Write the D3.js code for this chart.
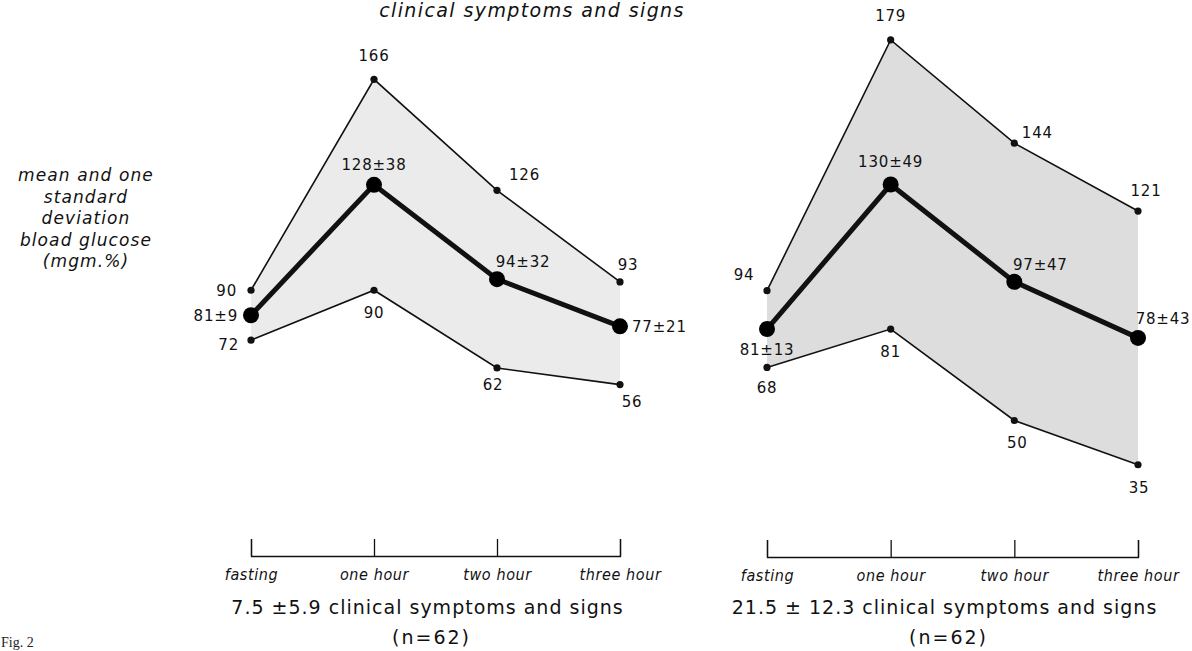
<!DOCTYPE html>
<html>
<head>
<meta charset="utf-8">
<script src="https://cdn.jsdelivr.net/npm/d3@7"></script>
<style>
  body { margin: 0; background: #fff; }
  svg { display: block; }
</style>
</head>
<body>
<div id="chart"></div>
<script>
// time points on the x axis
const timePoints = ["fasting", "one hour", "two hour", "three hour"];

// left panel: 7.5 ± 5.9 symptoms
const meanLeft = [81, 128, 94, 77];
const sdLeft = [9, 38, 32, 21];
const upperLeft = [90, 166, 126, 93];
const lowerLeft = [72, 90, 62, 56];

// right panel: 21.5 ± 12.3 symptoms
const meanRight = [81, 130, 97, 78];
const sdRight = [13, 49, 47, 43];
const upperRight = [94, 179, 144, 121];
const lowerRight = [68, 81, 50, 35];

const width = 1192, height = 651;
const numFont = "'DejaVu Sans', sans-serif";

const svg = d3.select("#chart").append("svg")
    .attr("width", width)
    .attr("height", height);

// 顶部标题
svg.append("text")
    .attr("x", 532).attr("y", 17)
    .attr("text-anchor", "middle")
    .attr("font-family", numFont)
    .attr("font-style", "italic")
    .attr("font-size", 19)
    .attr("letter-spacing", 1.4)
    .attr("fill", "#111")
    .text("clinical symptoms and signs");

// y label
const yLabel = ["mean and one", "standard", "deviation", "bload glucose", "(mgm.%)"];
svg.append("text")
    .attr("font-family", numFont)
    .attr("font-style", "italic")
    .attr("font-size", 17)
    .attr("letter-spacing", 1.1)
    .attr("text-anchor", "middle")
    .attr("fill", "#111")
    .selectAll("tspan")
    .data(yLabel)
    .enter().append("tspan")
    .attr("x", 86)
    .attr("y", (d, i) => 181 + i * 21.5)
    .text(d => d);

svg.append("text")
    .attr("x", 1).attr("y", 647)
    .attr("font-family", "'Liberation Serif', serif")
    .attr("font-size", 14)
    .attr("fill", "#222")
    .text("Fig. 2");

// 绘制一个面板
function drawPanel(p) {
    const x = d3.scalePoint().domain(timePoints).range(p.xRange);
    const y = d3.scaleLinear().domain([0, 200]).range(p.yRange);

    const rows = timePoints.map((t, i) => ({
        t: t, mean: p.mean[i], sd: p.sd[i], upper: p.upper[i], lower: p.lower[i]
    }));

    const g = svg.append("g");

    // shaded band
    g.append("path")
        .datum(rows)
        .attr("fill", p.fill)
        .attr("d", d3.area()
            .x(d => x(d.t))
            .y0(d => y(d.lower))
            .y1(d => y(d.upper)));

    // upper and lower thin lines
    ["upper", "lower"].forEach(k => {
        g.append("path")
            .datum(rows)
            .attr("fill", "none")
            .attr("stroke", "#111")
            .attr("stroke-width", 1.6)
            .attr("d", d3.line().x(d => x(d.t)).y(d => y(d[k])));

        g.selectAll(".dot-" + k)
            .data(rows)
            .enter().append("circle")
            .attr("cx", d => x(d.t))
            .attr("cy", d => y(d[k]))
            .attr("r", 3.6)
            .attr("fill", "#111");
    });

    // mean line
    g.append("path")
        .datum(rows)
        .attr("fill", "none")
        .attr("stroke", "#111")
        .attr("stroke-width", 5)
        .attr("d", d3.line().x(d => x(d.t)).y(d => y(d.mean)));

    g.selectAll(".dot-mean")
        .data(rows)
        .enter().append("circle")
        .attr("cx", d => x(d.t))
        .attr("cy", d => y(d.mean))
        .attr("r", 8)
        .attr("fill", "#000");

    // value labels
    const labelSets = [
        { key: "upper", text: d => d.upper, pos: p.upperPos },
        { key: "mean", text: d => d.mean + "±" + d.sd, pos: p.meanPos },
        { key: "lower", text: d => d.lower, pos: p.lowerPos }
    ];
    labelSets.forEach(s => {
        g.selectAll(".lab-" + s.key)
            .data(rows)
            .enter().append("text")
            .attr("x", (d, i) => x(d.t) + s.pos[i][0])
            .attr("y", (d, i) => y(d[s.key]) + s.pos[i][1])
            .attr("dy", "0.36em")
            .attr("text-anchor", (d, i) => s.pos[i][2])
            .attr("font-family", numFont)
            .attr("font-size", 15)
            .attr("letter-spacing", 0.8)
            .attr("fill", "#111")
            .text(s.text);
    });

    // bracket axis
    const axis = g.append("g")
        .attr("transform", `translate(0,${p.axisY})`)
        .call(d3.axisBottom(x).tickSizeInner(-17).tickSizeOuter(-17).tickPadding(13));
    axis.selectAll("path, line").attr("stroke", "#111").attr("stroke-width", 1.3);
    axis.selectAll("text")
        .attr("font-family", "'DejaVu Sans Condensed', 'DejaVu Sans', sans-serif")
        .attr("font-style", "italic")
        .attr("font-size", 16)
        .attr("letter-spacing", 0.6)
        .attr("fill", "#111");

    const cx = (p.xRange[0] + p.xRange[1]) / 2;
    g.append("text")
        .attr("x", cx - 8).attr("y", 614)
        .attr("text-anchor", "middle")
        .attr("font-family", numFont)
        .attr("font-size", 19)
        .attr("letter-spacing", 1)
        .attr("fill", "#111")
        .text(p.caption);
    g.append("text")
        .attr("x", cx - 4).attr("y", 644)
        .attr("text-anchor", "middle")
        .attr("font-family", numFont)
        .attr("font-size", 19)
        .attr("letter-spacing", 2)
        .attr("fill", "#111")
        .text("(n=62)");
}

drawPanel({
    mean: meanLeft, sd: sdLeft, upper: upperLeft, lower: lowerLeft,
    xRange: [251, 620], yRange: [540, -15], axisY: 556,
    fill: "#ebebeb",
    caption: "7.5 ±5.9 clinical symptoms and signs",
    upperPos: [[-14, 0, "end"], [0, -24, "middle"], [12, -16, "start"], [8, -17, "middle"]],
    meanPos: [[-13, 0, "end"], [0, -20, "middle"], [26, -18, "middle"], [12, 0, "start"]],
    lowerPos: [[-12, 4, "end"], [0, 22, "middle"], [-4, 17, "middle"], [12, 17, "middle"]]
});

drawPanel({
    mean: meanRight, sd: sdRight, upper: upperRight, lower: lowerRight,
    xRange: [767, 1138], yRange: [568, -22], axisY: 557,
    fill: "#dddddd",
    caption: "21.5 ± 12.3 clinical symptoms and signs",
    upperPos: [[-23, -16, "middle"], [0, -24, "middle"], [23, -11, "middle"], [8, -20, "middle"]],
    meanPos: [[0, 21, "middle"], [0, -23, "middle"], [26, -17, "middle"], [25, -19, "middle"]],
    lowerPos: [[0, 20, "middle"], [0, 23, "middle"], [3, 22, "middle"], [1, 23, "middle"]]
});
</script>
</body>
</html>
